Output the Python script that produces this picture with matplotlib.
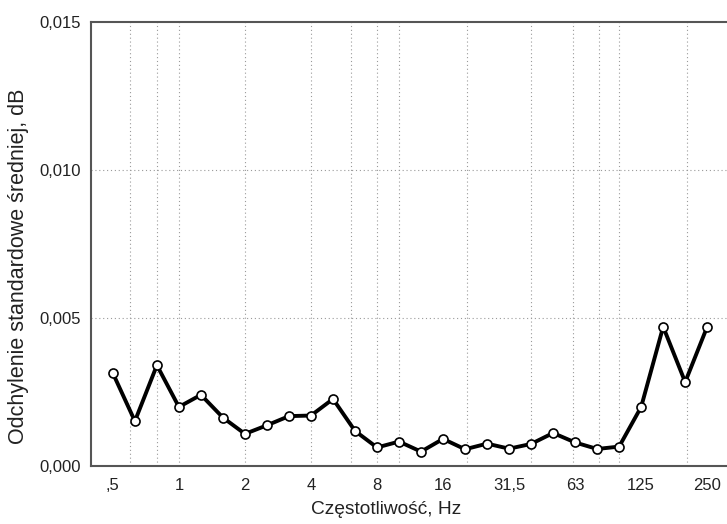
import numpy as np
import matplotlib
matplotlib.use("Agg")
import matplotlib.pyplot as plt

plt.rcParams['font.family'] = ['Liberation Sans', 'DejaVu Sans']

# pasma tercjowe 0,5 - 250 Hz
bands = [0.5, 0.63, 0.8, 1, 1.25, 1.6, 2, 2.5, 3.15, 4, 5, 6.3, 8, 10, 12.5,
         16, 20, 25, 31.5, 40, 50, 63, 80, 100, 125, 160, 200, 250]
std_dev = [0.00313, 0.00151, 0.00340, 0.00199, 0.00240, 0.00163, 0.00108,
           0.00137, 0.00168, 0.00170, 0.00226, 0.00118, 0.00062, 0.00082,
           0.00048, 0.00091, 0.00056, 0.00075, 0.00058, 0.00074, 0.00111,
           0.00079, 0.00057, 0.00065, 0.00199, 0.00470, 0.00283, 0.00470]
tick_idx = [0, 3, 6, 9, 12, 15, 18, 21, 24, 27]
tick_labels = [',5', '1', '2', '4', '8', '16', '31,5', '63', '125', '250']
# pionowe linie siatki (pozycje w indeksach pasm)
vgrid = [0.77, 2, 3, 6, 9, 10.8, 12, 13, 16.1, 19, 20.9, 22.1, 23, 26.1]
hgrid = [0.005, 0.010]

fig = plt.figure(figsize=(7.27, 5.24), dpi=100)
ax = fig.add_axes([0.125, 0.111, 0.875, 0.847])

x = np.arange(len(bands))
for g in vgrid:
    ax.axvline(g, color='#9a9a9a', lw=0.8, ls=(0, (1, 2.5)), zorder=1)
for g in hgrid:
    ax.axhline(g, color='#9a9a9a', lw=0.8, ls=(0, (1, 2.5)), zorder=1)

ax.plot(x, std_dev, '-', color='black', lw=2.8, zorder=3)
ax.plot(x, std_dev, 'o', mfc='white', mec='black', mew=1.2, ms=6.5, zorder=4)

ax.set_xlim(-1, 27.9)
ax.set_ylim(0, 0.015)
ax.set_xticks(tick_idx)
ax.set_xticklabels(tick_labels)
ax.set_yticks([0, 0.005, 0.010, 0.015])
ax.set_yticklabels(['0,000', '0,005', '0,010', '0,015'])
ax.tick_params(length=0, labelsize=12, colors='#222222')
ax.tick_params(axis='x', pad=9)
ax.tick_params(axis='y', pad=7)

for s in ['left', 'bottom', 'top']:
    ax.spines[s].set_color('#555555')
    ax.spines[s].set_linewidth(1.5)
ax.spines['right'].set_visible(False)

ax.set_xlabel('Częstotliwość, Hz', fontsize=13.8, color='#222222')
ax.xaxis.set_label_coords(0.464, -0.08)
ax.set_ylabel('Odchylenie standardowe średniej, dB', fontsize=15.5, color='#222222')
ax.yaxis.set_label_coords(-0.098, 0.45)

fig.savefig('out.png', dpi=100)
